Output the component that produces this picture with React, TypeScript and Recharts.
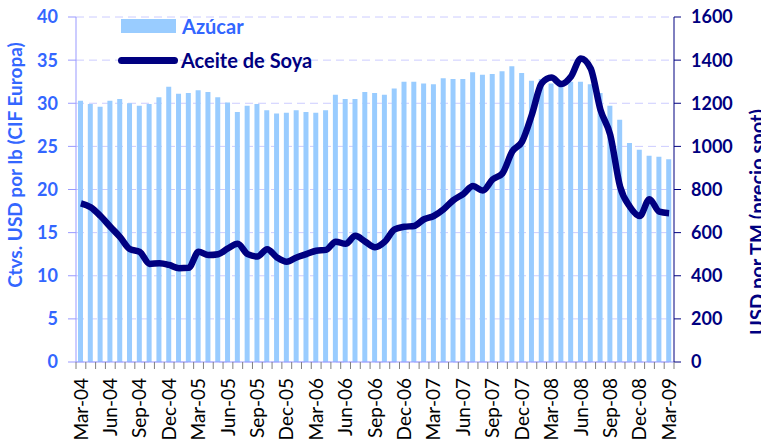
import React from 'react';
import { ComposedChart, Bar, Line, XAxis, YAxis, CartesianGrid, Legend } from 'recharts';

const months = [
  'Mar-04', 'Apr-04', 'May-04', 'Jun-04', 'Jul-04', 'Aug-04', 'Sep-04', 'Oct-04', 'Nov-04', 'Dec-04', 'Jan-05', 'Feb-05',
  'Mar-05', 'Apr-05', 'May-05', 'Jun-05', 'Jul-05', 'Aug-05', 'Sep-05', 'Oct-05', 'Nov-05', 'Dec-05', 'Jan-06', 'Feb-06',
  'Mar-06', 'Apr-06', 'May-06', 'Jun-06', 'Jul-06', 'Aug-06', 'Sep-06', 'Oct-06', 'Nov-06', 'Dec-06', 'Jan-07', 'Feb-07',
  'Mar-07', 'Apr-07', 'May-07', 'Jun-07', 'Jul-07', 'Aug-07', 'Sep-07', 'Oct-07', 'Nov-07', 'Dec-07', 'Jan-08', 'Feb-08',
  'Mar-08', 'Apr-08', 'May-08', 'Jun-08', 'Jul-08', 'Aug-08', 'Sep-08', 'Oct-08', 'Nov-08', 'Dec-08', 'Jan-09', 'Feb-09',
  'Mar-09',
];

// Azúcar, ctvs. USD por lb
const azucar = [
  30.3, 29.9, 29.6, 30.3, 30.5, 30.0, 29.7, 29.9, 30.7, 31.9, 31.1, 31.2,
  31.5, 31.3, 30.7, 30.1, 29.0, 29.7, 29.9, 29.2, 28.8, 28.9, 29.2, 29.0,
  28.9, 29.2, 31.0, 30.5, 30.5, 31.3, 31.2, 31.0, 31.7, 32.5, 32.5, 32.3,
  32.2, 32.9, 32.8, 32.8, 33.6, 33.3, 33.4, 33.7, 34.3, 33.5, 32.6, 32.8,
  32.3, 31.9, 32.5, 32.5, 32.2, 31.2, 29.7, 28.1, 25.4, 24.6, 23.9, 23.8,
  23.5,
];

// Aceite de soya, USD por TM
const soya = [
  736, 718, 677, 627, 579, 523, 511, 455, 458, 450, 435, 437,
  511, 496, 500, 527, 548, 500, 489, 523, 485, 465, 485, 500,
  516, 520, 558, 548, 585, 558, 532, 558, 615, 627, 631, 662,
  677, 708, 751, 779, 816, 795, 847, 875, 976, 1022, 1147, 1292,
  1319, 1289, 1324, 1408, 1361, 1169, 1053, 813, 720, 677, 755, 697,
  690,
];

const leftTicks = [0, 5, 10, 15, 20, 25, 30, 35, 40];
const rightTicks = [0, 200, 400, 600, 800, 1000, 1200, 1400, 1600];

const data = months.map((m, i) => ({ mes: m, azucar: azucar[i], soya: soya[i] }));

const FONT = 'Lato, "Open Sans", sans-serif';
const BLUE = '#3366ff';
const NAVY = '#000080';

const MonthTick = (props: any) => {
  const { x, y, payload, index } = props;
  const half = payload && payload.offset ? payload.offset : 598 / months.length / 2;
  return (
    <g>
      <line x1={x - half} x2={x - half} y1={y} y2={y + 7} stroke="#808080" />
      {index === months.length - 1 && (
        <line x1={x + half} x2={x + half} y1={y} y2={y + 7} stroke="#808080" />
      )}
      {index % 3 === 0 && (
        <text
          x={x}
          y={y + 16}
          dy="0.35em"
          transform={`rotate(-90, ${x}, ${y + 16})`}
          textAnchor="end"
          fontFamily={FONT}
          fontSize={19}
          fill="#000"
        >
          {payload.value}
        </text>
      )}
    </g>
  );
};

const renderLegend = () => (
  <div style={{ fontFamily: FONT, fontWeight: 700, fontSize: 20 }}>
    <div style={{ display: 'flex', alignItems: 'center', height: 28 }}>
      <span style={{ display: 'inline-block', width: 55, height: 14, background: '#99ccff', marginLeft: 3, marginRight: 6 }} />
      <span style={{ color: BLUE }}>Azúcar</span>
    </div>
    <div style={{ display: 'flex', alignItems: 'center', height: 34, marginTop: 3 }}>
      <span style={{ display: 'inline-block', width: 60, height: 7, borderRadius: 4, background: NAVY, marginRight: 3 }} />
      <span style={{ color: NAVY }}>Aceite de Soya</span>
    </div>
  </div>
);

export default function App() {
  return (
    <div style={{ position: 'absolute', top: 0, left: 0, width: 761, height: 444, background: '#fff' }}>
      <ComposedChart
        width={761}
        height={444}
        data={data}
        margin={{ top: 17, right: 0, bottom: 0, left: 0 }}
      >
        <CartesianGrid yAxisId="left" vertical={false} stroke="#ccccff" strokeDasharray="8 5" />
        <XAxis
          dataKey="mes"
          height={82}
          interval={0}
          tickLine={false}
          tickSize={0}
          tickMargin={0}
          axisLine={{ stroke: '#9999ff' }}
          tick={<MonthTick />}
        />
        <YAxis
          yAxisId="left"
          width={76}
          domain={[0, 40]}
          ticks={leftTicks}
          tickSize={8}
          tickMargin={10}
          axisLine={{ stroke: '#9999ff' }}
          tickLine={{ stroke: '#9999ff' }}
          tick={{ fill: BLUE, fontSize: 18, fontWeight: 700, fontFamily: FONT }}
          label={{
            content: () => (
              <text
                x={22}
                y={165}
                transform="rotate(-90, 22, 165)"
                textAnchor="middle"
                fontFamily={FONT}
                fontWeight={700}
                fontSize={19}
                fill={BLUE}
              >
                Ctvs. USD por lb (CIF Europa)
              </text>
            ),
          }}
        />
        <YAxis
          yAxisId="right"
          orientation="right"
          width={87}
          domain={[0, 1600]}
          ticks={rightTicks}
          tickSize={7}
          tickMargin={10}
          axisLine={{ stroke: NAVY }}
          tickLine={{ stroke: NAVY }}
          tick={{ fill: NAVY, fontSize: 18, fontWeight: 700, fontFamily: FONT, textAnchor: 'start' }}
          label={{
            content: () => (
              <text
                x={765}
                y={222}
                transform="rotate(-90, 765, 222)"
                textAnchor="middle"
                fontFamily={FONT}
                fontWeight={700}
                fontSize={20}
                fill={NAVY}
              >
                USD por TM (precio spot)
              </text>
            ),
          }}
        />
        <Legend
          layout="vertical"
          align="center"
          verticalAlign="middle"
          content={renderLegend}
          wrapperStyle={{ top: 12, left: 118, width: 260 }}
        />
        <Bar
          yAxisId="left"
          dataKey="azucar"
          name="Azúcar"
          fill="#99ccff"
          barSize={5}
          isAnimationActive={false}
        />
        <Line
          yAxisId="right"
          dataKey="soya"
          name="Aceite de Soya"
          type="monotone"
          stroke={NAVY}
          strokeWidth={6.5}
          dot={false}
          isAnimationActive={false}
        />
      </ComposedChart>
    </div>
  );
}
